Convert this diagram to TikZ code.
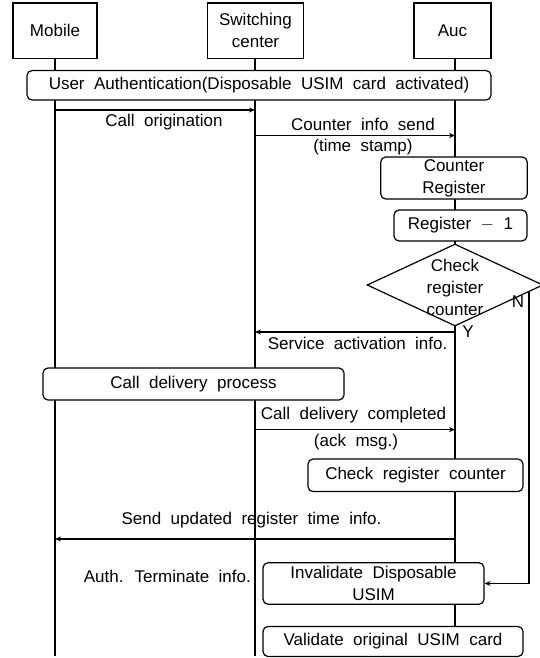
\documentclass[tikz,border=0pt]{standalone}
\usepackage{fontspec}
\setmainfont{Liberation Sans}[WordSpace=2]
\usetikzlibrary{shapes.geometric,arrows.meta}
\tikzset{
	actor/.style={draw, line width=1.2pt, align=center, inner sep=0pt, minimum height=55.5pt},
	proc/.style={draw, fill=white, rounded corners=5pt, line width=1.2pt, align=center, inner sep=0pt},
	life/.style={line width=1.2pt},
	msg/.style={line width=1.2pt, -{Stealth[length=6pt,width=5pt]}},
	lbl/.style={inner sep=0pt}
}
\begin{document}
\begin{tikzpicture}[x=1pt,y=-1pt,font=\fontsize{17}{22}\selectfont]
	\useasboundingbox (0,0) rectangle (540,658);
	%actors
		\node[actor, minimum width=84pt] (mob) at (55,30.8) {Mobile};
		\node[actor, minimum width=96pt] (sw) at (255.5,30.8) {Switching\\center};
		\node[actor, minimum width=77pt] (auc) at (452.5,30.8) {Auc};
	%lifelines
		\coordinate (mobEnd) at (55,656);
		\coordinate (swTop) at (255,58.5);
		\coordinate (swEnd) at (255,656);
		\coordinate (aucTop) at (455,58.5);
		\coordinate (aucEnd) at (455,626);
		\draw[life] (mob.south) -- (mobEnd);
		\draw[life] (swTop) -- (swEnd);
		\draw[life] (aucTop) -- (aucEnd);
	%user authentication
		\node[proc, minimum width=464pt, minimum height=29.5pt] (auth) at (259,85.3) {User Authentication(Disposable USIM card activated)};
	%call origination
		\coordinate (orgA) at (55,110);
		\coordinate (orgB) at (255,110);
		\draw[msg] (orgA) -- (orgB);
		\node[lbl] (orgTxt) at (164,121.7) {Call origination};
	%counter info send
		\coordinate (cntA) at (255,135.5);
		\coordinate (cntB) at (455,135.5);
		\draw[msg] (cntA) -- (cntB);
		\node[lbl] (cntTxt) at (363,124.8) {Counter info send};
		\node[lbl] (cntTxtB) at (363,147) {(time stamp)};
	%auc steps
		\node[proc, minimum width=146.5pt, minimum height=42pt] (creg) at (454,178) {Counter\\Register};
		\node[proc, minimum width=133pt, minimum height=31pt] (regm) at (460.5,225.5) {Register $-$ 1};
		\node[diamond, draw, fill=white, line width=1.2pt, aspect=2, inner sep=0pt, minimum width=176pt, minimum height=82pt] (chk) at (455,285) {};
		\node[lbl, align=center] (chkTxt) at (455,287) {Check\\register\\counter};
		\node[lbl] (nTxt) at (518,302) {N};
		\node[lbl] (yTxt) at (468,332) {Y};
	%service activation
		\coordinate (srvA) at (455,332);
		\coordinate (srvB) at (255,332);
		\draw[msg] (srvA) -- (srvB);
		\node[lbl] (srvTxt) at (357.6,343) {Service activation info.};
	%call delivery
		\node[proc, minimum width=301pt, minimum height=32pt] (cdp) at (193.5,384) {Call delivery process};
		\coordinate (cdcA) at (255,429.6);
		\coordinate (cdcB) at (455,429.6);
		\draw[msg] (cdcA) -- (cdcB);
		\node[lbl] (cdcTxt) at (353.5,414.8) {Call delivery completed};
		\node[lbl] (cdcTxtB) at (356,441.7) {(ack msg.)};
		\node[proc, minimum width=215pt, minimum height=32.5pt] (chk2) at (415.5,475.3) {Check register counter};
	%updated register time
		\coordinate (updA) at (455,539);
		\coordinate (updB) at (55,539);
		\draw[msg] (updA) -- (updB);
		\node[lbl] (updTxt) at (251.5,520) {Send updated register time info.};
	%termination
		\node[lbl, anchor=east] (termTxt) at (251,576.5) {Auth. Terminate info.};
		\node[proc, minimum width=221pt, minimum height=41.5pt] (inval) at (373.5,583.5) {Invalidate Disposable\\USIM};
		\node[proc, minimum width=260pt, minimum height=30pt] (valid) at (393,641.5) {Validate original USIM card};
	%N branch
		\coordinate (nTop) at (529,292);
		\draw[msg] (nTop) |- (inval.east);
\end{tikzpicture}
\end{document}
